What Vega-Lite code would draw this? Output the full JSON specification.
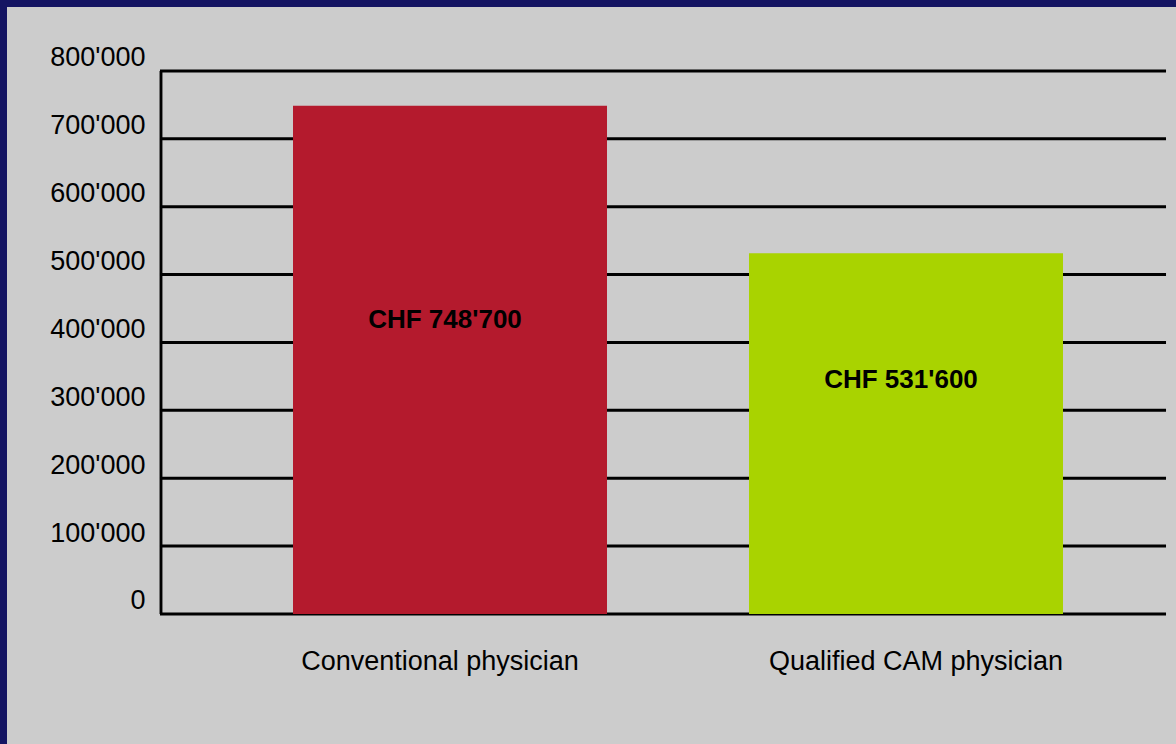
{
  "$schema": "https://vega.github.io/schema/vega-lite/v6.json",
  "width": 1169,
  "height": 737,
  "autosize": {"type": "none"},
  "padding": {"left": 7, "top": 7, "right": 0, "bottom": 0},
  "background": "#141462",
  "config": {
    "view": {"fill": "#cccccc", "stroke": null},
    "font": "Liberation Sans"
  },
  "datasets": {
    "bars": [
      {"category": "Conventional physician", "value": 748700, "label": "CHF 748'700"},
      {"category": "Qualified CAM physician", "value": 531600, "label": "CHF 531'600"}
    ],
    "gridlines": [
      {"tick": 0}, {"tick": 100000}, {"tick": 200000}, {"tick": 300000}, {"tick": 400000},
      {"tick": 500000}, {"tick": 600000}, {"tick": 700000}, {"tick": 800000}
    ]
  },
  "layer": [
    {
      "data": {"name": "gridlines"},
      "mark": {"type": "rule", "color": "black", "strokeWidth": 3},
      "encoding": {
        "x": {"datum": "Conventional physician", "type": "nominal", "bandPosition": -0.136},
        "x2": {"datum": "Qualified CAM physician", "bandPosition": 1.0702},
        "y": {"field": "tick", "type": "quantitative", "scale": {"domain": [-191529, 894291], "nice": false, "zero": false}, "axis": null}
      }
    },
    {
      "data": {"name": "bars"},
      "mark": {"type": "bar", "width": 314},
      "encoding": {
        "x": {
          "field": "category",
          "type": "nominal",
          "sort": null,
          "scale": {"paddingInner": 0, "paddingOuter": 0.2818, "align": 0.8366},
          "axis": {
            "title": null,
            "domain": false,
            "ticks": false,
            "offset": -130,
            "labelAngle": 0,
            "labelAlign": "center",
            "labelPadding": 55,
            "labelBaseline": "alphabetic",
            "labelFontSize": 27,
            "labelLimit": 600,
            "labelColor": "black",
            "labelOffset": {"condition": {"test": "datum.value === 'Conventional physician'", "value": -10}, "value": 10}
          }
        },
        "y": {
          "field": "value",
          "type": "quantitative",
          "scale": {"domain": [-191529, 894291], "nice": false, "zero": false},
          "axis": {
            "title": null,
            "values": [0, 100000, 200000, 300000, 400000, 500000, 600000, 700000, 800000],
            "labelExpr": "replace(format(datum.value, ','), regexp(',', 'g'), \"'\")",
            "grid": false,
            "domain": false,
            "ticks": false,
            "offset": -154,
            "labelPadding": 16,
            "labelFontSize": 27,
            "labelLimit": 300,
            "labelColor": "black",
            "labelBaseline": "alphabetic",
            "labelOffset": -5,
            "labelFlush": false,
            "labelBound": false,
            "labelOverlap": false
          }
        },
        "color": {
          "field": "category",
          "type": "nominal",
          "sort": null,
          "scale": {"range": ["#b41a2d", "#a9d300"]},
          "legend": null
        }
      }
    },
    {
      "data": {"name": "bars"},
      "mark": {"type": "rule", "color": "black", "strokeWidth": 2.5},
      "encoding": {
        "x": {"datum": "Conventional physician", "type": "nominal", "bandPosition": -0.1338},
        "y": {"datum": 0, "type": "quantitative", "scale": {"domain": [-191529, 894291], "nice": false, "zero": false}, "axis": null},
        "y2": {"datum": 800000}
      }
    },
    {
      "data": {"name": "bars"},
      "mark": {"type": "text", "fontSize": 26, "fontWeight": "bold", "color": "black", "baseline": "middle", "align": "center", "dx": -5},
      "encoding": {
        "x": {"field": "category", "type": "nominal", "sort": null},
        "y": {
          "field": "value",
          "type": "quantitative",
          "scale": {"domain": [-772814, 1871892], "nice": false, "zero": false},
          "axis": null
        },
        "text": {"field": "label"}
      }
    }
  ],
  "resolve": {"scale": {"y": "independent"}}
}
